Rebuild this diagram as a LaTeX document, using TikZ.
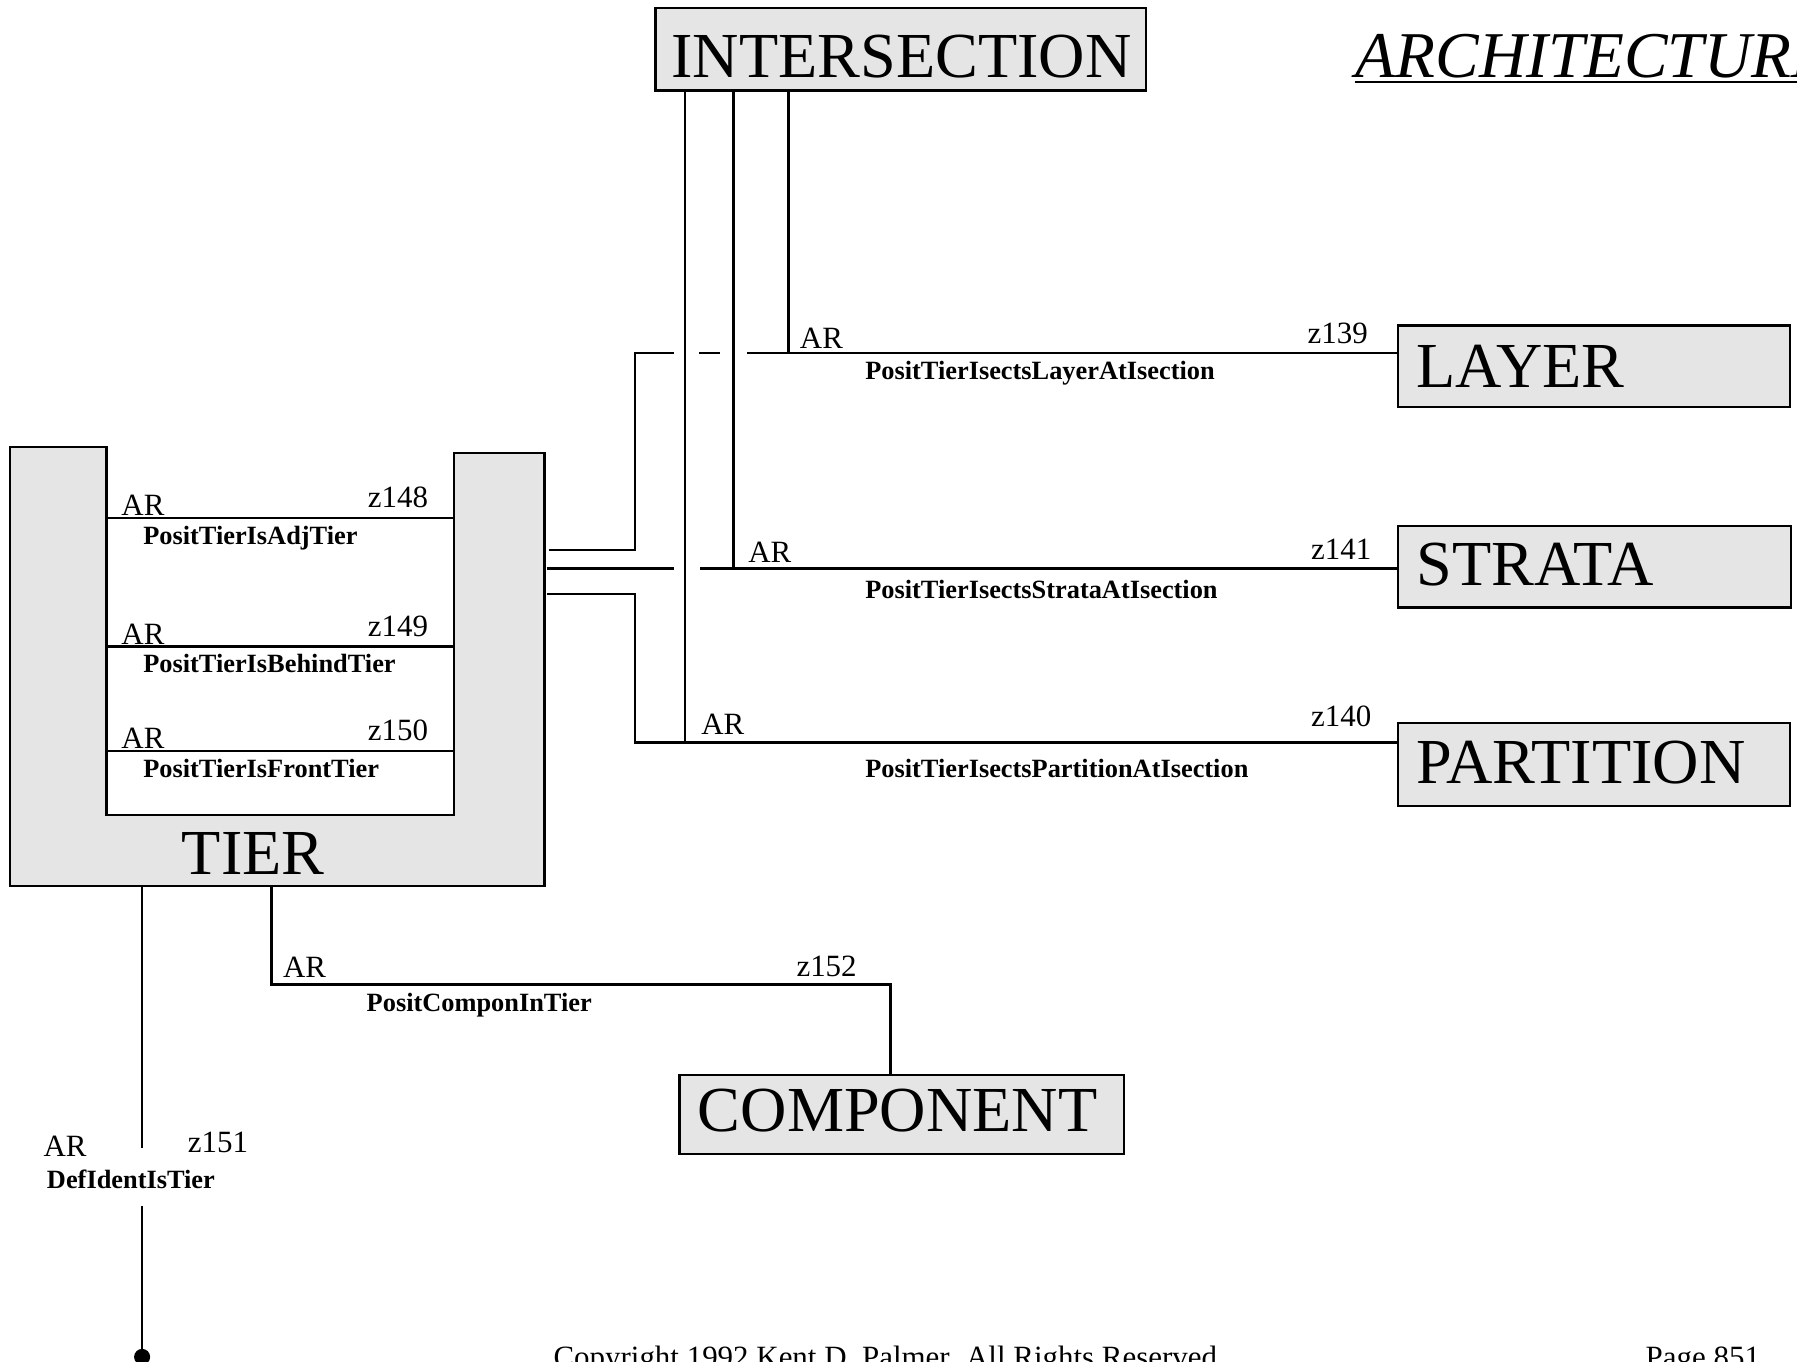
\documentclass[tikz,border=0pt]{standalone}
\usepackage{fontspec}
\setmainfont{Liberation Serif}
\usepackage{tikz}
\usetikzlibrary{calc, positioning}

\definecolor{boxgray}{gray}{0.9}

\begin{document}
\begin{tikzpicture}[x=0.5pt, y=-0.5pt, line width=1pt,
    entity/.style={draw, fill=boxgray, anchor=north west, inner xsep=8pt,
        inner ysep=0pt, text height=18.5pt, text depth=0pt, align=left,
        font=\fontsize{28}{30}\selectfont},
    card/.style={anchor=base west, inner sep=0pt, font=\fontsize{13.5}{15}\selectfont},
    relname/.style={anchor=base west, inner sep=0pt,
        font=\bfseries\fontsize{11.5}{13}\selectfont}]
    % page
    \useasboundingbox (0,0) rectangle (1568,1188);

    % title
    \node[anchor=base west, inner sep=0pt, font=\itshape\fontsize{28.5}{30}\selectfont] (title) at (1182,68) {ARCHITECTURE};
    \draw[line width=1.2pt] ($(title.base west)+(0,3.5)$) -- ($(title.base east)+(0,3.5)$);

    % entities
    \node[entity, text width=200pt, align=center, inner xsep=7pt, text height=24.5pt, minimum height=36pt] (isect) at (571,6) {INTERSECTION};
    \node[entity, text width=155pt, minimum height=35.5pt] (layer) at (1219,283) {LAYER};
    \node[entity, text width=155.5pt, minimum height=35.5pt, text depth=2pt] (strata) at (1219,458) {STRATA};
    \node[entity, text width=155pt, minimum height=36pt, text depth=1.5pt] (partition) at (1219,630) {PARTITION};
    \node[entity, text width=178pt, minimum height=34.5pt, text depth=4pt] (compon) at (592,937) {COMPONENT};

    % TIER (U shape)
    \draw[fill=boxgray] (9,390) -- (93,390) -- (93,711) -- (396,711)
        -- (396,395) -- (475,395) -- (475,773) -- (9,773) -- cycle;
    \node[anchor=base, inner sep=0pt, font=\fontsize{28}{30}\selectfont] (tier) at (221,763) {TIER};

    % TIER to TIER
    \foreach \y/\z/\name in {452/148/PositTierIsAdjTier, 564/149/PositTierIsBehindTier, 655/150/PositTierIsFrontTier} {
        \draw (93,\y) -- (396,\y);
        \node[card] at (105,\y-2) {AR};
        \node[card] at (320,\y-9) {z\z};
        \node[relname] at (124,\y+23) {\name};
    }

    % TIER to INTERSECTION
    \coordinate (jl) at (688,308);
    \coordinate (js) at (640,496);
    \coordinate (jp) at (598,648);
    \draw (jl |- isect.south) -- (jl);
    \draw (js |- isect.south) -- (js);
    \draw (jp |- isect.south) -- (jp);
    \draw (479,480) -| (554,308) -- (588,308);
    \draw (610,308) -- (628,308);
    \draw (652,308) -- (layer.west |- jl);
    \draw (477,496) -- (588,496);
    \draw (611,496) -- (strata.west |- js);
    \draw (477,518) -| (554,648) -- (partition.west |- jp);

    \node[card] at (697,304) {AR};
    \node[card] at (1140,300) {z139};
    \node[relname] at (754,331) {PositTierIsectsLayerAtIsection};
    \node[card] at (652,491) {AR};
    \node[card] at (1143,488) {z141};
    \node[relname] at (754,522) {PositTierIsectsStrataAtIsection};
    \node[card] at (611,641) {AR};
    \node[card] at (1143,634) {z140};
    \node[relname] at (754,678) {PositTierIsectsPartitionAtIsection};

    % TIER to COMPONENT
    \coordinate (jc) at (777,859);
    \draw (237,773) |- (jc) -- (jc |- compon.north);
    \node[card] at (246,853) {AR};
    \node[card] at (694,852) {z152};
    \node[relname] at (319,883) {PositComponInTier};

    % DEFIDENT to TIER
    \coordinate (jd) at (124,1184);
    \draw (124,773) -- (124,1002);
    \draw (124,1052) -- (jd);
    \fill (jd) circle (3.5pt);
    \node[card] at (37,1009) {AR};
    \node[card] at (163,1006) {z151};
    \node[relname] at (40,1037) {DefIdentIsTier};

    % footer
    \node[card] at (482,1193) {Copyright 1992 Kent D. Palmer. All Rights Reserved.};
    \node[card] at (1435,1193) {Page 851};
\end{tikzpicture}
\end{document}
